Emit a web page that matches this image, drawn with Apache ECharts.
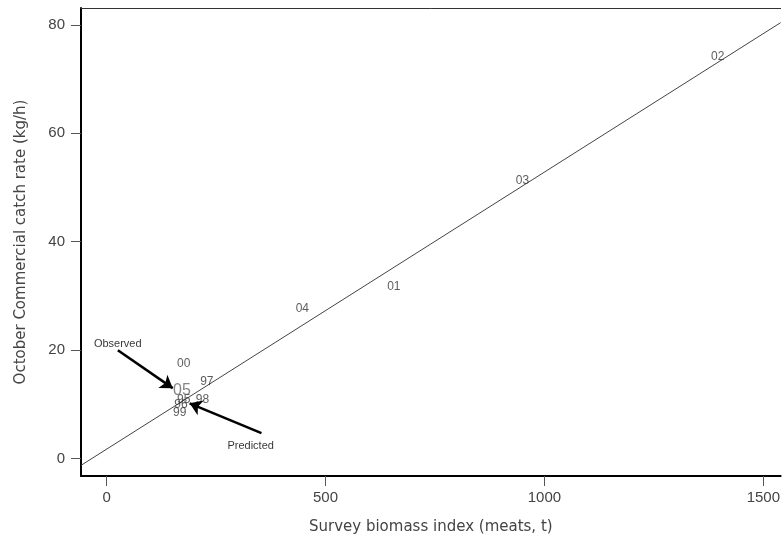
<!DOCTYPE html>
<html>
<head>
<meta charset="utf-8">
<script src="https://cdn.jsdelivr.net/npm/echarts@6/dist/echarts.min.js"></script>
<style>
  html, body { margin: 0; padding: 0; background: #fff; }
  #chart { width: 783px; height: 546px; }
</style>
</head>
<body>
<div id="chart"></div>
<script>
// year labels at (survey biomass, catch rate)
var years = ['02', '03', '01', '04', '00', '97', '98', '95', '96', '99'];
var biomass = [1396, 950, 656, 447, 176, 229, 219, 176, 170, 167];
var catchRate = [74.1, 51.2, 31.8, 27.7, 17.6, 14.1, 10.9, 10.9, 10.0, 8.5];

// 2005 observed point (drawn bigger)
var obs05 = [172, 12.6];

// fitted line end points
var fitX = [-58.5, 1539.5];
var fitY = [-1.24, 80.4];

// arrows: start -> tip
var obsArrow = [[25.7, 20.0], [151, 13.0]];
var predArrow = [[353.7, 4.7], [189.6, 10.2]];
var notes = ['Observed', 'Predicted'];
var notePos = [[-29, 21.1], [276, 2.3]];

var xTicks = [0, 500, 1000, 1500];
var yTicks = [0, 20, 40, 60, 80];

var chart = echarts.init(document.getElementById('chart'));

var pts = [];
for (var i = 0; i < years.length; i++) {
    pts.push([biomass[i], catchRate[i], years[i]]);
}

var fontName = 'Liberation Sans, Arial, sans-serif';
var titleFont = 'DejaVu Sans, sans-serif';

var option = {
    animation: false,
    backgroundColor: '#fff',
    grid: { left: 81, top: 8, right: 0, bottom: 70 },
    xAxis: [{
        type: 'value',
        min: -58.5,
        max: 1539.5,
        name: 'Survey biomass index (meats, t)',
        nameLocation: 'middle',
        nameGap: 44,
        nameTextStyle: { color: '#444', fontSize: 15, fontFamily: titleFont },
        axisLine: { show: true, onZero: false, lineStyle: { color: '#000', width: 2 } },
        axisTick: { show: true, length: 10, customValues: xTicks, lineStyle: { color: '#555' } },
        axisLabel: {
            customValues: xTicks, margin: 14, color: '#444', fontSize: 15, fontFamily: fontName,
            formatter: function (v) { return String(v); }
        },
        splitLine: { show: false }
    }, {
        type: 'value',
        position: 'top',
        min: -58.5,
        max: 1539.5,
        axisLine: { show: true, onZero: false, lineStyle: { color: '#333', width: 1 } },
        axisTick: { show: false },
        axisLabel: { show: false },
        splitLine: { show: false }
    }],
    yAxis: {
        type: 'value',
        min: -3.2,
        max: 83.1,
        name: 'October Commercial catch rate (kg/h)',
        nameLocation: 'middle',
        nameGap: 52,
        nameTextStyle: { color: '#444', fontSize: 15, fontFamily: titleFont },
        axisLine: { show: true, onZero: false, lineStyle: { color: '#000', width: 2 } },
        axisTick: { show: true, length: 10, customValues: yTicks, lineStyle: { color: '#555' } },
        axisLabel: { customValues: yTicks, margin: 16, color: '#444', fontSize: 15, fontFamily: fontName },
        splitLine: { show: false }
    },
    series: [{
        type: 'line',
        data: [[fitX[0], fitY[0]], [fitX[1], fitY[1]]],
        symbol: 'none',
        lineStyle: { color: '#444', width: 1 },
        z: 1
    }, {
        type: 'scatter',
        data: pts,
        symbolSize: 0,
        label: {
            show: true,
            position: 'inside',
            formatter: function (p) { return p.value[2]; },
            color: '#333',
            fontSize: 12,
            fontFamily: fontName
        },
        z: 3
    }, {
        type: 'scatter',
        data: [[obs05[0], obs05[1], '05']],
        symbolSize: 0,
        label: {
            show: true,
            position: 'inside',
            formatter: '05',
            color: '#666',
            fontSize: 16,
            fontFamily: fontName
        },
        z: 3
    }, {
        type: 'scatter',
        data: [[notePos[0][0], notePos[0][1], notes[0]], [notePos[1][0], notePos[1][1], notes[1]]],
        symbolSize: 0,
        label: {
            show: true,
            position: 'right',
            distance: 0,
            formatter: function (p) { return p.value[2]; },
            color: '#000',
            fontSize: 11,
            fontFamily: fontName
        },
        markLine: {
            silent: true,
            symbol: ['none', 'arrow'],
            symbolSize: 12,
            label: { show: false },
            lineStyle: { color: '#000', width: 2.5, type: 'solid' },
            data: [
                [{ coord: obsArrow[0] }, { coord: obsArrow[1] }],
                [{ coord: predArrow[0] }, { coord: predArrow[1] }]
            ]
        },
        z: 4
    }]
};

chart.setOption(option);
</script>
</body>
</html>
